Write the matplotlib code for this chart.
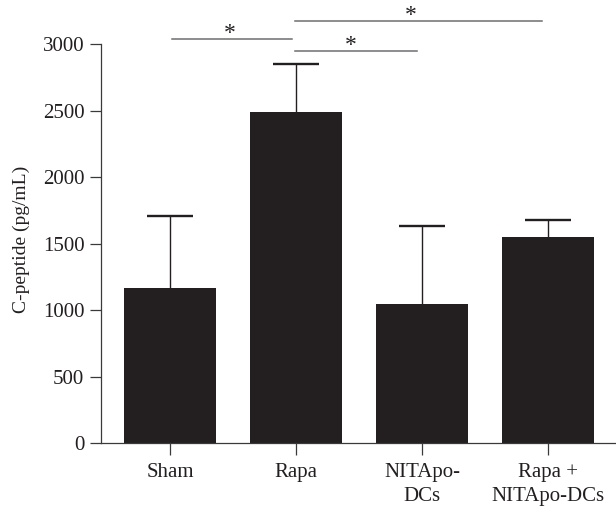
import matplotlib
matplotlib.use("Agg")
import matplotlib.pyplot as plt
import numpy as np

groups = ["Sham", "Rapa", "NITApo-\nDCs", "Rapa +\nNITApo-DCs"]
c_peptide = [1165, 2490, 1045, 1550]
err_upper = [545, 360, 585, 130]

# significance brackets: (x start, x end, height, star x)
brackets = [(0.01, 0.97, 3040, 0.47), (0.99, 2.95, 3175, 1.91), (0.99, 1.96, 2950, 1.43)]

plt.rcParams["font.family"] = ["Liberation Serif", "DejaVu Serif"]

ink = "#231f20"
fig = plt.figure(figsize=(6.16, 5.08), dpi=100)
ax = fig.add_axes([0.164, 0.1273, 0.836, 0.786])

x = np.arange(len(groups))
ax.bar(x, c_peptide, width=0.73, color=ink, zorder=2)

# upper-only error bars
tops = np.array(c_peptide) + np.array(err_upper)
ax.vlines(x, c_peptide, tops, color=ink, lw=1.0, zorder=1)
ax.hlines(tops, x - 0.183, x + 0.183, color=ink, lw=1.7, zorder=1)

for x0, x1, h, xs in brackets:
    ax.plot([x0, x1], [h, h], color="#6d6e71", lw=1.1, clip_on=False)
    ax.text(xs, h, "*", ha="center", va="baseline", fontsize=17, color=ink)

ax.set_xlim(-0.55, 3.54)
ax.set_ylim(0, 3000)
ax.set_yticks([0, 500, 1000, 1500, 2000, 2500, 3000])
ax.set_xticks(x)
ax.set_xticklabels(groups, linespacing=1.3)
ax.set_ylabel("C-peptide (pg/mL)", fontsize=14, color=ink)
ax.yaxis.set_label_coords(-0.138, 0.51)

for side in ("top", "right"):
    ax.spines[side].set_visible(False)
for side in ("left", "bottom"):
    ax.spines[side].set_color("#3a3a3a")
    ax.spines[side].set_linewidth(0.9)
ax.tick_params(axis="y", direction="out", length=8, width=0.9, color="#3a3a3a",
               labelsize=15, labelcolor=ink, pad=4)
ax.tick_params(axis="x", direction="out", length=8.5, width=0.9, color="#3a3a3a",
               labelsize=15, labelcolor=ink, pad=6)

fig.savefig("out.png", dpi=100)
